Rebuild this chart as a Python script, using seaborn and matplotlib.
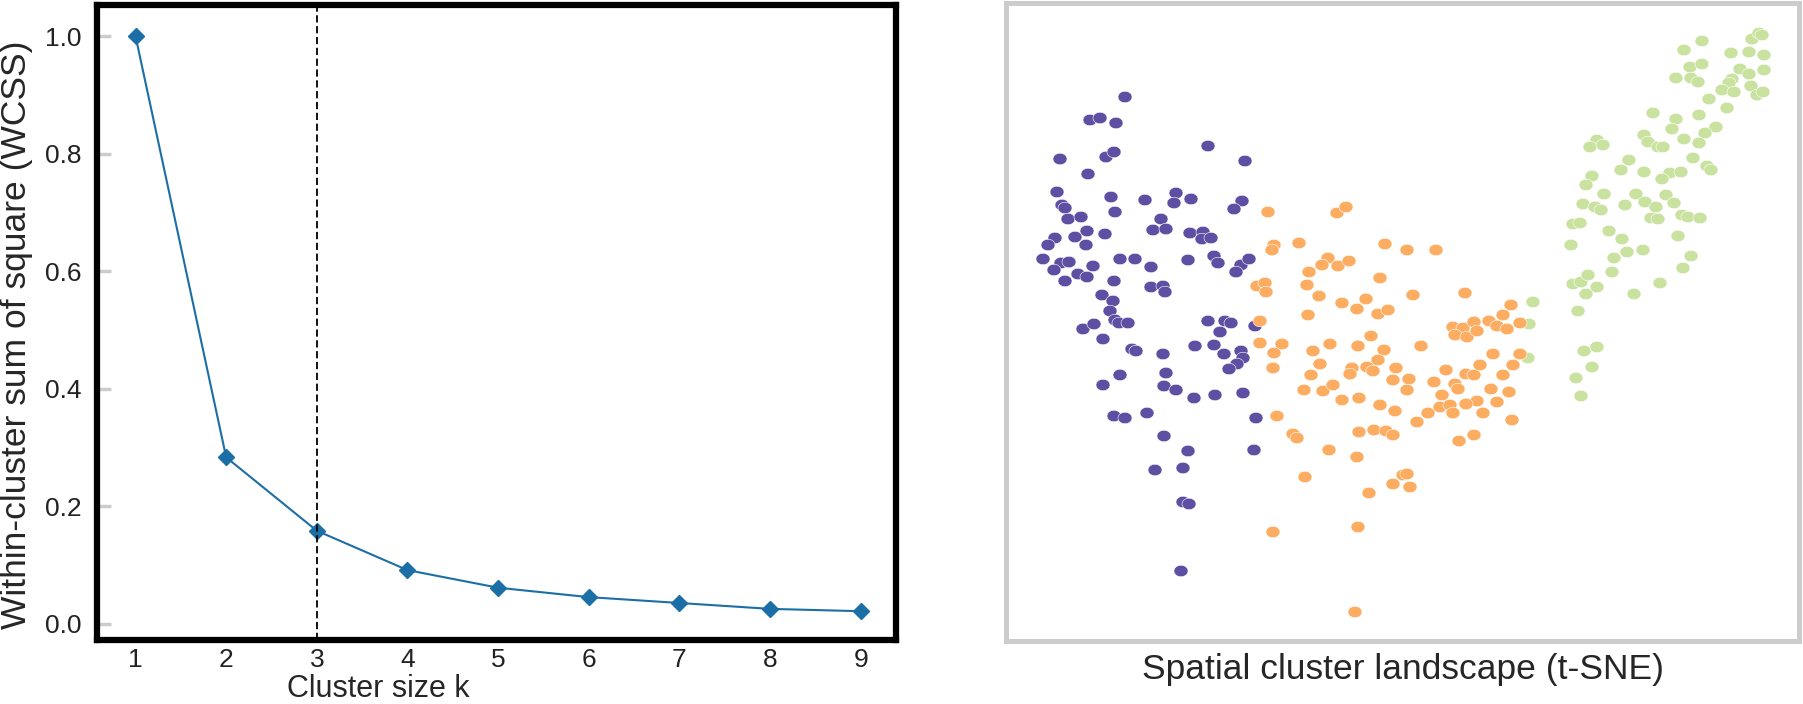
import numpy as np
import pandas as pd
import matplotlib
matplotlib.use("Agg")
import matplotlib.pyplot as plt
import seaborn as sns
from matplotlib.path import Path
from matplotlib.markers import MarkerStyle

# elbow curve
k_values = [1, 2, 3, 4, 5, 6, 7, 8, 9]
wcss = [1.0, 0.283, 0.158, 0.091, 0.061, 0.045, 0.035, 0.025, 0.021]
chosen_k = 3

# t-SNE embedding, one pair of arrays per cluster
purple_x = [125, 90, 100, 116, 208, 60, 106, 114, 245, 88, 57, 111, 145, 176, 174, 191, 242, 234,
            62, 65, 115, 68, 81, 161, 153, 166, 87, 75, 105, 55, 48, 86, 190, 203, 202, 211,
            43, 61, 69, 54, 93, 120, 135, 151, 188, 214, 218, 241, 249, 236, 78, 87, 65, 114,
            151, 163, 165, 102, 113, 110,
            83, 94, 115, 119, 128, 208, 225, 231, 255, 220,
            103, 132, 136, 163, 195, 214, 224, 241, 243, 237, 229, 120, 103, 166, 164, 176,
            194, 215, 243, 114, 125, 147, 256, 164, 188, 254, 155, 183, 183, 189, 181]
purple_y = [543, 520, 522, 517, 494, 481, 483, 488, 479, 466, 448, 443, 440, 447, 437, 441, 439, 431,
            435, 432, 428, 421, 423, 421, 410, 411, 409, 403, 406, 402, 395, 395, 407, 408, 401, 402,
            381, 377, 378, 370, 374, 381, 381, 373, 380, 384, 377, 375, 381, 368, 366, 363, 359, 359,
            353, 354, 348, 345, 339, 329,
            311, 316, 320, 317, 317, 319, 319, 317, 314, 308,
            301, 291, 289, 286, 294, 295, 286, 289, 282, 276, 271, 265, 255, 267, 254, 250,
            242, 245, 247, 224, 222, 227, 222, 204, 189, 190, 170, 172, 138, 136, 69]

green_x = [702, 684, 752, 759, 762, 731, 749, 764, 690, 702, 676, 691, 698, 740, 749, 764, 732, 729,
           722, 734, 751, 757, 763, 709, 727, 653, 699, 676, 672, 716, 705, 644, 648, 658, 663, 684,
           699, 597, 590, 603, 693, 707, 711, 629, 621, 644, 670, 681, 662, 592, 586, 604, 636, 666,
           674, 645, 656, 583, 595, 601, 625, 651, 658, 682, 688, 700, 573, 580, 609, 622, 678, 571,
           627, 643, 614, 691, 612, 683, 573, 581, 588, 597, 586, 660, 634, 533, 578, 529, 528, 584,
           597, 592, 576, 581]
green_y = [599, 590, 601, 607, 605, 587, 588, 585, 573, 576, 562, 562, 558, 571, 566, 570, 561, 557,
           550, 548, 554, 545, 548, 541, 532, 527, 525, 521, 511, 513, 507, 505, 498, 493, 493, 501,
           497, 500, 493, 495, 482, 474, 470, 480, 470, 468, 467, 468, 461, 464, 455, 446, 446, 445,
           437, 438, 433, 436, 433, 430, 435, 422, 421, 425, 423, 422, 416, 417, 409, 401, 404, 395,
           388, 390, 382, 384, 368, 372, 356, 358, 365, 353, 346, 357, 346, 338, 329, 316, 282, 289,
           293, 273, 262, 244]

orange_x = [268, 257, 265, 266, 260, 260,
            337, 346, 274, 272, 299, 385, 407, 436, 328, 322, 338, 349, 309, 307, 380, 319, 342,
            366, 357, 413, 465, 511, 308, 378, 388,
            453, 463, 455, 467, 474, 477, 489, 497, 507, 503, 520,
            282, 274, 273, 313, 330, 358, 371, 384, 421, 378, 320, 352, 350, 367, 373, 396, 311,
            393, 409, 407, 304, 323, 333, 342, 359, 380, 395, 277, 434, 446, 455, 458, 442, 466,
            474, 480, 493, 520, 513, 503, 491, 509, 497, 477, 466, 440, 450, 453, 483, 428, 417,
            512, 474, 459, 293, 297, 359, 374, 386, 393, 329, 357, 305, 403, 407, 393, 410, 369,
            273, 358, 355]
orange_y = [428, 354, 357, 348, 319, 297,
            427, 433, 395, 390, 397, 396, 390, 390, 382, 375, 374, 379, 368, 355, 362, 344, 337,
            341, 331, 345, 347, 335, 325, 326, 330,
            313, 312, 305, 303, 318, 309, 319, 314, 311, 325, 317,
            296, 287, 272, 289, 296, 294, 304, 290, 294, 280, 276, 272, 266, 273, 269, 272, 265,
            260, 261, 250, 250, 249, 255, 240, 242, 235, 229, 224, 258, 270, 256, 251, 245, 266,
            265, 275, 286, 286, 275, 265, 251, 248, 238, 239, 236, 233, 235, 227, 227, 227, 218,
            220, 205, 199, 206, 202, 208, 210, 209, 205, 190, 183, 163, 165, 166, 156, 153, 147,
            108, 113, 28]

cluster_colors = {"purple": "#5e4fa2", "green": "#c9e2a0", "orange": "#fcad62"}

tsne = pd.concat([
    pd.DataFrame({"tsne_1": purple_x, "tsne_2": purple_y, "cluster": "purple"}),
    pd.DataFrame({"tsne_1": green_x, "tsne_2": green_y, "cluster": "green"}),
    pd.DataFrame({"tsne_1": orange_x, "tsne_2": orange_y, "cluster": "orange"}),
], ignore_index=True)

sns.set_style("white")
plt.rcParams["font.family"] = ["Liberation Sans", "DejaVu Sans"]

fig = plt.figure(figsize=(18.03, 7.04), dpi=100)
ax1 = fig.add_axes([97 / 1803, 64 / 704, 799 / 1803, 635 / 704])
ax2 = fig.add_axes([1006 / 1803, 63 / 704, 793 / 1803, 638.5 / 704])

# left: elbow plot
sns.lineplot(x=k_values, y=wcss, ax=ax1, color="#1b6fa6", linewidth=1.5,
             marker="D", markersize=8, markeredgewidth=1, markeredgecolor="#1b6fa6")
ax1.axvline(chosen_k, color="black", linestyle=(0, (4, 2)), linewidth=1.3)
ax1.set_xlim(0.575, 9.39)
ax1.set_ylim(-0.028, 1.053)
ax1.set_xticks(k_values)
ax1.set_yticks([0.0, 0.2, 0.4, 0.6, 0.8, 1.0])
ax1.tick_params(axis="y", direction="in", length=10, width=2.5, color="#cccccc",
                labelsize=19, pad=11, labelcolor="#222222", left=True)
ax1.tick_params(axis="x", length=0, labelsize=19, pad=5.5, labelcolor="#222222")
for s in ax1.spines.values():
    s.set_visible(True)
    s.set_color("black")
    s.set_linewidth(4.5)
ax1.set_xlabel("Cluster size k", fontsize=22)
ax1.set_ylabel("Within-cluster sum of square (WCSS)", fontsize=25.5)
ax1.xaxis.set_label_coords(0.352, -0.054)
ax1.yaxis.set_label_coords(-0.08, 0.481)

# right: t-SNE scatter
t = np.linspace(0, 2 * np.pi, 60)
ellipse = MarkerStyle(Path(np.column_stack([np.cos(t), 0.82 * np.sin(t)]), closed=True))
sns.scatterplot(data=tsne, x="tsne_1", y="tsne_2", hue="cluster", palette=cluster_colors,
                ax=ax2, s=102, marker=ellipse, edgecolor="white", linewidth=0.4, legend=False)
ax2.set_xlim(6, 799)
ax2.set_ylim(-1, 637.5)
ax2.set_xticks([])
ax2.set_yticks([])
ax2.set_ylabel("")
for s in ax2.spines.values():
    s.set_visible(True)
    s.set_color("#cccccc")
    s.set_linewidth(3.6)
ax2.set_xlabel("Spatial cluster landscape (t-SNE)", fontsize=25.5)
ax2.xaxis.set_label_coords(0.5, -0.019)

fig.savefig("out.png", dpi=100)
